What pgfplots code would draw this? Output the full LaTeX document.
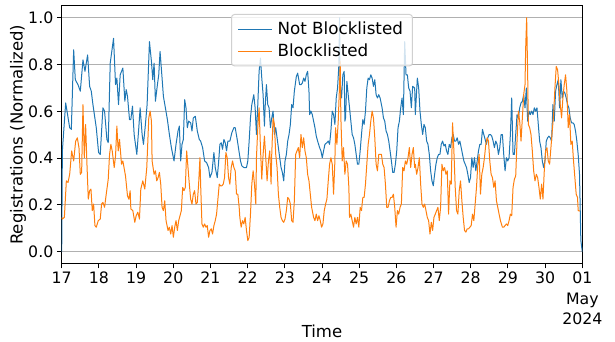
\documentclass[border=0pt]{standalone}
\usepackage{fontspec}
\setmainfont{DejaVu Sans}
\usepackage{pgfplots}
\pgfplotsset{compat=1.18}
\definecolor{mplblue}{HTML}{1F77B4}
\definecolor{mplorange}{HTML}{FF7F0E}
\definecolor{gridgray}{HTML}{B0B0B0}
\definecolor{legedge}{HTML}{D0D0D0}
\begin{document}
\begin{tikzpicture}
\useasboundingbox (-61.7bp,-78.5bp) rectangle (553.3bp,263.5bp);
\begin{axis}[
  at={(0,0)}, anchor=south west,
  scale only axis, width=520.6bp, height=257.5bp,
  xmin=0, xmax=336, ymin=-0.05, ymax=1.05,
  xtick={0,24,48,72,96,120,144,168,192,216,240,264,288,312,336},
  xticklabels={17,18,19,20,21,22,23,24,25,26,27,28,29,30,{01\\May\\2024}},
  ytick={0,0.2,0.4,0.6,0.8,1.0},
  yticklabels={0.0,0.2,0.4,0.6,0.8,1.0},
  /pgf/number format/assume math mode=true,
  xticklabel style={font=\fontsize{15.8}{20.5}\selectfont, align=center},
  yticklabel style={font=\fontsize{15.8}{18}\selectfont},
  tick align=outside, xtick pos=left, ytick pos=left,
  major tick length=4.9bp,
  every tick/.style={black, line width=1bp},
  axis line style={line width=1bp},
  ymajorgrids, major grid style={gridgray, line width=1bp},
  xlabel={Time}, ylabel={Registrations (Normalized)},
  label style={font=\fontsize{16.6}{19}\selectfont},
  xlabel style={at={(axis description cs:0.5,-0.262)}, anchor=center},
  ylabel style={at={(axis description cs:-0.084,0.5)}, anchor=center, rotate=0},
  legend style={at={(0.5,0.969)}, anchor=north, draw=legedge, line width=1bp, fill=white,
    fill opacity=0.8, draw opacity=1, text opacity=1, rounded corners=3bp,
    font=\fontsize{16.8}{19}\selectfont, inner xsep=6bp, inner ysep=4bp,
    row sep=1bp,
    nodes={inner sep=3.5bp},
    /tikz/every odd column/.append style={column sep=1.5bp}},
  legend cell align=left,
  legend image code/.code={\draw[#1] (0bp,0bp) -- (34bp,0bp);},
  every axis plot/.append style={line width=1bp, line join=round},
]
\addplot[mplblue] coordinates {
(0,0.0)(0.43,0.431)(2.57,0.636)(3.43,0.601)(5.15,0.530)(6.22,0.523)(7.72,0.863)(8.79,0.735)(10.51,0.714)(12.01,0.686)(13.73,0.820)(15.02,0.771)(16.73,0.841)(18.02,0.707)(19.09,0.686)(20.16,0.629)(21.24,0.579)(22.31,0.530)(23.81,0.424)(24.88,0.416)(26.60,0.615)(27.67,0.601)(29.17,0.480)(30.03,0.466)(31.32,0.806)(33.46,0.912)(34.75,0.714)(35.61,0.742)(36.68,0.629)(37.75,0.756)(39.47,0.785)(40.76,0.643)(41.61,0.693)(42.47,0.664)(43.76,0.565)(44.62,0.565)(45.69,0.622)(46.76,0.501)(48.48,0.416)(49.76,0.530)(50.62,0.615)(51.91,0.501)(52.77,0.459)(53.84,0.530)(55.13,0.629)(56.63,0.898)(57.92,0.813)
(58.77,0.735)(59.63,0.806)(60.49,0.643)(61.78,0.714)(62.63,0.756)(63.49,0.856)(64.78,0.742)(65.64,0.664)(66.92,0.615)(68.21,0.565)(69.50,0.501)(70.79,0.445)(72.50,0.388)(73.79,0.459)(75.08,0.516)(75.93,0.537)(76.79,0.388)(77.65,0.459)(78.51,0.480)(79.37,0.650)(80.22,0.615)(81.08,0.530)(81.94,0.558)(83.23,0.551)(84.08,0.516)(84.94,0.572)(86.23,0.579)(87.52,0.516)(88.80,0.480)(89.66,0.473)(90.95,0.445)(92.24,0.388)(93.52,0.381)(94.81,0.360)(95.67,0.317)(96.96,0.339)(98.24,0.424)(99.10,0.360)(100.39,0.317)(101.25,0.381)(102.10,0.459)(102.96,0.466)(103.82,0.438)(104.68,0.480)(105.54,0.466)(106.40,0.431)(107.26,0.473)(108.54,0.473)(109.83,0.509)(111.12,0.530)(111.98,0.530)(113.27,0.480)(114.55,0.424)
(115.40,0.388)(116.26,0.367)(117.55,0.360)(119.26,0.360)(120.12,0.388)(120.98,0.473)(121.84,0.572)(122.70,0.629)(123.98,0.671)(124.84,0.615)(125.70,0.501)(126.56,0.629)(127.41,0.771)(128.27,0.827)(129.13,0.742)(129.99,0.671)(130.85,0.537)(131.27,0.615)(132.13,0.714)(132.99,0.629)(133.85,0.615)(134.71,0.530)(135.56,0.572)(136.42,0.601)(137.28,0.501)(138.14,0.530)(139.00,0.487)(139.85,0.445)(140.71,0.402)(141.57,0.360)(142.43,0.339)(143.29,0.303)(144.14,0.388)(145.00,0.416)(145.86,0.473)(146.72,0.501)(147.58,0.544)(148.43,0.629)(149.29,0.615)(150.15,0.686)(151.44,0.749)(152.30,0.763)(153.58,0.714)(154.44,0.714)(155.30,0.721)(156.16,0.742)(157.01,0.728)(157.87,0.756)(158.73,0.771)(159.59,0.686)(160.02,0.586)(160.88,0.601)(161.73,0.586)(162.59,0.558)(163.45,0.530)(164.31,0.494)(165.17,0.473)(166.45,0.445)(167.31,0.431)(168.17,0.402)(169.03,0.431)(169.89,0.459)(171.17,0.466)
(172.03,0.473)(172.89,0.459)(173.75,0.516)(174.61,0.601)(175.46,0.586)(176.32,0.544)(177.18,0.657)(178.04,0.700)(178.90,0.799)(179.33,1.000)(179.76,0.714)(180.61,0.657)(181.47,0.756)(182.33,0.771)(182.76,0.558)(183.19,0.572)(184.05,0.728)(184.91,0.671)(185.77,0.615)(186.62,0.558)(187.48,0.501)(188.34,0.487)(189.20,0.459)(190.06,0.416)(190.91,0.374)(191.77,0.374)(192.63,0.431)(193.49,0.501)(194.35,0.565)(195.20,0.544)(196.06,0.601)(196.92,0.700)(197.78,0.742)(198.64,0.735)(199.49,0.756)(200.35,0.742)(201.21,0.707)(202.07,0.735)(202.93,0.671)(203.78,0.657)(204.64,0.671)(205.50,0.657)(206.79,0.615)(207.65,0.572)(208.50,0.558)(209.36,0.516)(210.22,0.501)(211.08,0.473)(211.94,0.431)(212.79,0.388)(213.65,0.339)(214.51,0.339)(215.37,0.374)(216.23,0.431)(217.08,0.530)(217.94,0.558)(218.80,0.615)(219.66,0.657)(220.52,0.586)(221.38,0.898)(222.23,0.756)(223.09,0.756)(223.95,0.700)(224.81,0.686)(225.67,0.615)(226.52,0.707)(227.81,0.700)
(228.24,0.586)(229.53,0.742)(230.39,0.700)(231.24,0.601)(232.10,0.544)(232.96,0.501)(233.82,0.544)(234.68,0.530)(235.53,0.473)(236.39,0.459)(237.25,0.416)(238.11,0.346)(238.97,0.303)(239.82,0.282)(240.68,0.331)(241.54,0.374)(242.40,0.402)(243.26,0.416)(244.11,0.416)(244.97,0.459)(245.83,0.473)(246.69,0.452)(247.55,0.459)(248.40,0.431)(249.26,0.416)(250.12,0.459)(250.98,0.445)(251.84,0.487)(252.69,0.501)(253.55,0.473)(254.41,0.473)(255.27,0.487)(256.13,0.459)(256.98,0.473)(257.84,0.445)(258.70,0.416)(259.56,0.388)(260.42,0.374)(261.27,0.360)(262.13,0.331)(262.99,0.296)(263.85,0.317)(264.71,0.402)(265.56,0.360)(266.42,0.402)(267.28,0.346)(268.14,0.388)(269.00,0.431)(269.85,0.459)(270.71,0.459)(271.57,0.523)(272.43,0.501)(273.29,0.480)(274.14,0.459)(275.00,0.487)(275.86,0.501)(276.72,0.501)(277.58,0.494)(278.43,0.473)(279.29,0.445)(280.15,0.473)(281.01,0.459)(281.87,0.416)(282.72,0.445)(283.58,0.501)(284.44,0.501)
(285.29,0.416)(286.15,0.346)(287.01,0.402)(287.87,0.388)(288.73,0.402)(289.58,0.501)(290.44,0.657)(291.30,0.416)(292.16,0.416)(293.02,0.501)(293.87,0.586)(294.73,0.572)(295.59,0.615)(296.45,0.636)(297.31,0.643)(298.16,0.671)(299.02,0.615)(299.88,0.700)(300.74,0.558)(301.60,0.601)(302.45,0.586)(303.31,0.601)(304.17,0.586)(305.03,0.615)(305.89,0.601)(306.74,0.615)(307.60,0.544)(308.46,0.473)(309.32,0.445)(310.18,0.388)(311.03,0.360)(311.89,0.388)(312.75,0.473)(313.61,0.487)(314.47,0.494)(315.32,0.487)(316.18,0.473)(317.04,0.629)(317.90,0.558)(318.76,0.686)(319.61,0.714)(320.47,0.735)(321.33,0.615)(322.19,0.735)(323.05,0.657)(323.90,0.686)(324.76,0.678)(325.62,0.657)(326.48,0.629)(327.34,0.615)(328.19,0.572)(329.05,0.551)(329.91,0.551)(330.77,0.544)(331.63,0.516)(332.48,0.473)(333.34,0.416)(334.20,0.331)(334.63,0.190)(335.06,0.048)(336,0.0)
};
\addlegendentry{Not Blocklisted}
\addplot[mplorange] coordinates {
(0,0.147)(0.43,0.140)(1.72,0.147)(3.00,0.303)(4.08,0.296)(5.15,0.331)(6.44,0.431)(7.72,0.388)(9.01,0.473)(10.08,0.487)(11.15,0.445)(12.01,0.331)(12.87,0.339)(13.73,0.629)(14.59,0.402)(15.44,0.544)(16.30,0.374)(17.16,0.225)(18.02,0.261)(18.88,0.268)(19.73,0.176)(20.59,0.204)(21.45,0.112)(22.31,0.105)(23.60,0.133)(24.88,0.140)(25.74,0.204)(26.60,0.211)(27.67,0.190)(28.74,0.246)(30.03,0.310)(30.89,0.416)(31.75,0.459)(32.60,0.431)(33.89,0.360)(34.75,0.409)(35.61,0.537)(36.47,0.431)(37.32,0.480)(38.61,0.374)(39.47,0.388)(41.18,0.324)(42.47,0.239)(43.33,0.225)(44.19,0.261)(44.62,0.183)(45.90,0.176)(47.19,0.126)(48.05,0.154)(49.12,0.169)(50.19,0.140)(51.05,0.268)(52.34,0.303)(53.63,0.268)(54.91,0.360)(56.20,0.572)(57.06,0.601)(57.92,0.558)
(58.35,0.388)(59.63,0.331)(60.49,0.346)(61.35,0.303)(62.21,0.317)(63.06,0.339)(63.92,0.289)(64.78,0.190)(65.64,0.176)(66.50,0.218)(67.35,0.133)(68.64,0.091)(69.50,0.105)(70.36,0.076)(71.22,0.112)(72.07,0.062)(72.93,0.105)(73.79,0.133)(74.65,0.091)(75.51,0.133)(76.36,0.154)(77.22,0.176)(78.08,0.275)(78.94,0.261)(79.80,0.275)(80.65,0.431)(81.51,0.360)(82.37,0.289)(83.23,0.225)(84.08,0.204)(84.94,0.246)(85.80,0.261)(86.66,0.204)(87.52,0.211)(88.37,0.289)(89.23,0.402)(89.66,0.289)(90.52,0.119)(91.38,0.105)(92.24,0.119)(93.09,0.105)(93.95,0.112)(94.81,0.062)(95.67,0.091)(96.53,0.098)(97.38,0.076)(98.24,0.112)(99.10,0.133)(99.96,0.161)(100.82,0.225)(101.68,0.289)(102.53,0.282)(103.39,0.282)(104.25,0.289)(105.11,0.317)(105.97,0.424)(106.82,0.402)(107.68,0.317)(108.54,0.289)(109.40,0.360)(110.26,0.388)(111.12,0.360)(111.98,0.346)(112.83,0.246)(113.69,0.246)(114.55,0.190)
(114.97,0.147)(115.83,0.105)(116.69,0.133)(117.55,0.119)(118.40,0.147)(119.26,0.091)(120.12,0.048)(120.98,0.062)(121.84,0.161)(122.70,0.289)(123.55,0.346)(124.41,0.289)(125.27,0.204)(125.70,0.402)(126.56,0.530)(127.41,0.615)(128.27,0.445)(129.13,0.310)(129.99,0.416)(130.85,0.494)(131.70,0.402)(132.56,0.303)(133.42,0.388)(134.28,0.431)(135.14,0.289)(135.56,0.416)(136.42,0.572)(137.28,0.544)(138.14,0.416)(139.00,0.360)(139.85,0.246)(140.71,0.190)(141.57,0.147)(142.43,0.133)(143.29,0.126)(144.14,0.140)(145.00,0.176)(145.86,0.232)(146.72,0.225)(147.58,0.204)(148.43,0.133)(149.29,0.126)(150.15,0.218)(151.01,0.416)(151.87,0.431)(152.72,0.445)(153.58,0.402)(154.44,0.501)(155.30,0.445)(156.16,0.487)(157.01,0.431)(157.87,0.402)(158.73,0.331)(159.59,0.303)(160.45,0.246)(161.31,0.190)(162.59,0.147)(163.45,0.133)(164.31,0.161)(165.17,0.133)(166.03,0.154)(166.88,0.133)(167.74,0.105)(168.60,0.119)(169.46,0.176)(170.32,0.204)(171.17,0.225)
(172.03,0.303)(172.89,0.374)(173.75,0.402)(174.61,0.374)(175.46,0.246)(176.32,0.388)(176.75,0.530)(177.61,0.459)(178.47,0.558)(179.33,0.714)(179.76,0.813)(180.18,0.572)(181.04,0.388)(181.90,0.445)(182.76,0.331)(183.62,0.388)(184.48,0.374)(185.34,0.275)(185.77,0.147)(186.62,0.161)(187.48,0.133)(188.34,0.105)(189.20,0.147)(190.06,0.119)(190.91,0.147)(191.77,0.105)(192.63,0.190)(193.49,0.176)(194.35,0.232)(195.20,0.232)(196.06,0.289)(196.92,0.374)(197.78,0.459)(198.64,0.501)(199.49,0.558)(200.35,0.601)(201.21,0.572)(202.07,0.487)(202.93,0.374)(203.78,0.346)(204.64,0.416)(205.50,0.416)(206.36,0.416)(207.22,0.374)(208.07,0.360)(208.93,0.289)(209.79,0.190)(210.65,0.190)(211.51,0.218)(212.37,0.232)(213.22,0.232)(214.08,0.246)(214.94,0.190)(215.80,0.105)(216.66,0.176)(217.51,0.161)(218.37,0.190)(219.23,0.204)(220.09,0.360)(220.95,0.346)(221.81,0.388)(222.66,0.374)(223.52,0.402)(224.38,0.445)(225.24,0.360)(226.10,0.416)(226.96,0.445)(227.81,0.360)
(228.24,0.374)(229.10,0.331)(229.96,0.360)(230.82,0.402)(231.67,0.289)(232.53,0.204)(233.39,0.190)(234.25,0.204)(235.11,0.176)(235.96,0.147)(236.82,0.133)(237.68,0.076)(238.54,0.126)(239.40,0.091)(240.25,0.147)(241.11,0.161)(241.97,0.176)(242.83,0.190)(243.69,0.133)(244.54,0.190)(245.40,0.374)(246.26,0.346)(247.12,0.360)(247.98,0.331)(248.83,0.346)(249.69,0.161)(250.55,0.303)(251.41,0.289)(252.27,0.551)(253.12,0.431)(253.98,0.275)(254.84,0.176)(255.70,0.161)(256.56,0.261)(257.41,0.303)(258.27,0.218)(259.13,0.147)(259.99,0.091)(260.85,0.084)(261.70,0.098)(262.56,0.098)(263.42,0.105)(264.28,0.112)(265.14,0.161)(265.99,0.133)(266.85,0.204)(267.71,0.275)(268.57,0.374)(269.43,0.416)(270.28,0.246)(271.14,0.331)(272.00,0.360)(272.86,0.402)(273.72,0.459)(274.57,0.487)(275.43,0.473)(276.29,0.388)(277.15,0.331)(278.01,0.317)(278.87,0.275)(279.72,0.303)(280.58,0.218)(281.44,0.190)(282.30,0.161)(283.16,0.133)(284.44,0.105)
(285.29,0.105)(286.15,0.112)(287.01,0.119)(287.87,0.112)(288.73,0.133)(289.58,0.161)(290.44,0.154)(291.30,0.275)(292.16,0.310)(293.02,0.324)(293.87,0.473)(294.73,0.601)(295.59,0.558)(296.45,0.473)(297.31,0.572)(298.16,0.671)(299.02,0.714)(299.45,0.870)(300.09,1.000)(300.74,0.756)(301.17,0.544)(302.03,0.530)(302.88,0.501)(303.74,0.431)(304.60,0.346)(305.46,0.303)(306.32,0.331)(307.17,0.317)(308.03,0.275)(308.89,0.225)(309.75,0.289)(310.61,0.225)(311.46,0.346)(312.32,0.431)(313.18,0.445)(314.04,0.388)(314.90,0.374)(315.75,0.445)(316.61,0.516)(317.47,0.586)(318.33,0.700)(319.19,0.792)(320.04,0.778)(320.90,0.714)(321.76,0.629)(322.62,0.572)(323.48,0.657)(324.33,0.714)(325.19,0.756)(326.05,0.686)(326.91,0.530)(327.77,0.586)(328.62,0.459)(329.48,0.473)(330.34,0.388)(331.20,0.317)(332.06,0.246)(332.91,0.232)(333.34,0.176)(334.5,0.174)
};
\addlegendentry{Blocklisted}
\end{axis}
\end{tikzpicture}
\end{document}
